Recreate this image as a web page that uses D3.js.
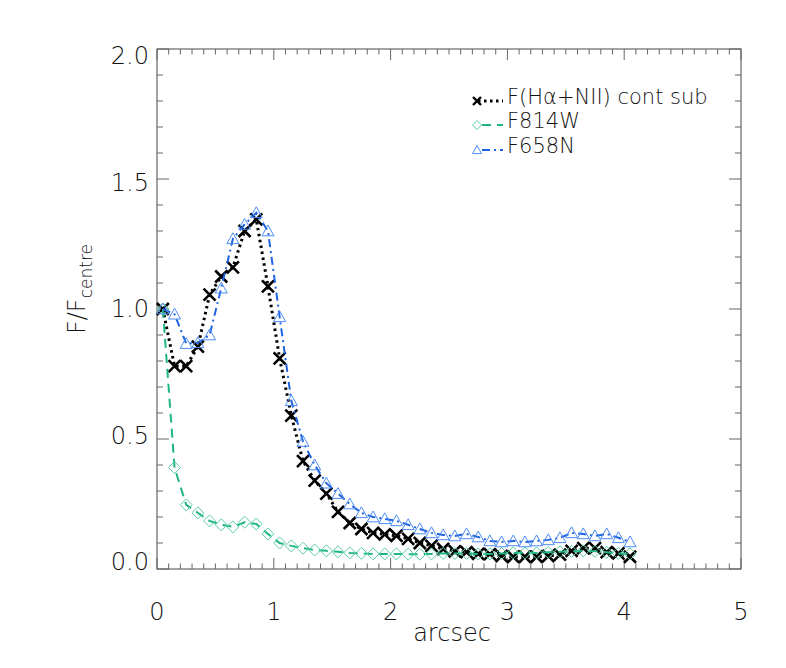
<!DOCTYPE html>
<html>
<head>
<meta charset="utf-8">
<script src="https://cdn.jsdelivr.net/npm/d3@7"></script>
<style>
  body { margin: 0; background: #fff; }
  text { font-family: "DejaVu Sans", "Liberation Sans", sans-serif; font-weight: 200; fill: #111; }
</style>
</head>
<body>
<svg id="chart" width="786" height="668"></svg>
<script>
// radial profile data
var arcsec = [0.05, 0.15, 0.25, 0.35, 0.45, 0.55, 0.65, 0.75, 0.85, 0.95,
              1.05, 1.15, 1.25, 1.35, 1.45, 1.55, 1.65, 1.75, 1.85, 1.95,
              2.05, 2.15, 2.25, 2.35, 2.45, 2.55, 2.65, 2.75, 2.85, 2.95,
              3.05, 3.15, 3.25, 3.35, 3.45, 3.55, 3.65, 3.75, 3.85, 3.95, 4.05];

var haContSub = [1.0, 0.78, 0.78, 0.855, 1.055, 1.125, 1.16, 1.30, 1.345, 1.087,
                 0.81, 0.59, 0.415, 0.34, 0.29, 0.22, 0.177, 0.154, 0.139, 0.133,
                 0.128, 0.116, 0.10, 0.089, 0.077, 0.068, 0.065, 0.058, 0.057, 0.05,
                 0.047, 0.047, 0.047, 0.05, 0.055, 0.07, 0.08, 0.08, 0.065, 0.06, 0.047];

var f814w = [1.0, 0.39, 0.247, 0.216, 0.185, 0.17, 0.162, 0.18, 0.173, 0.135,
             0.10, 0.089, 0.08, 0.073, 0.07, 0.066, 0.062, 0.06, 0.058, 0.058,
             0.058, 0.057, 0.057, 0.058, 0.06, 0.06, 0.06, 0.058, 0.058, 0.06,
             0.062, 0.062, 0.062, 0.064, 0.066, 0.068, 0.07, 0.068, 0.064, 0.06, 0.058];

var f658n = [1.0, 0.98, 0.867, 0.87, 0.9, 1.08, 1.27, 1.325, 1.37, 1.30,
             0.97, 0.647, 0.49, 0.40, 0.33, 0.29, 0.25, 0.216, 0.20, 0.193,
             0.185, 0.17, 0.154, 0.139, 0.131, 0.127, 0.135, 0.123, 0.108, 0.104,
             0.108, 0.104, 0.108, 0.112, 0.12, 0.139, 0.135, 0.127, 0.135, 0.12, 0.104];

var xTicks = [0, 1, 2, 3, 4, 5];
var yTicks = [0.0, 0.5, 1.0, 1.5, 2.0];

var seriesNames = ["F(H\u03b1+NII) cont sub", "F814W", "F658N"];

// ############################################
// chart frame
var margin = {top: 49, right: 45, bottom: 99, left: 157};
var width = 786 - margin.left - margin.right,
    height = 668 - margin.top - margin.bottom;

var svg = d3.select("#chart");
var g = svg.append("g").attr("transform", `translate(${margin.left},${margin.top})`);

var xScale = d3.scaleLinear().domain([0, 5]).range([0, width]);
var yScale = d3.scaleLinear().domain([0, 2]).range([height, 0]);

var axisCol = "#666";

g.append("rect")
  .attr("width", width).attr("height", height)
  .attr("fill", "none").attr("stroke", axisCol).attr("stroke-width", 1.2);

// ticks on all 4 sides, pointing inward
var xMinor = d3.range(0, 51).map(d => d / 10);
var yMinor = d3.range(0, 21).map(d => d / 10);
var isMajorX = v => Math.abs(v - Math.round(v)) < 1e-6;
var isMajorY = v => Math.abs(v * 2 - Math.round(v * 2)) < 1e-6;

g.selectAll("line.xtick_b").data(xMinor).join("line").attr("class", "xtick_b")
  .attr("x1", d => xScale(d)).attr("x2", d => xScale(d))
  .attr("y1", height).attr("y2", d => height - (isMajorX(d) ? 11 : 5.5))
  .attr("stroke", axisCol);
g.selectAll("line.xtick_t").data(xMinor).join("line").attr("class", "xtick_t")
  .attr("x1", d => xScale(d)).attr("x2", d => xScale(d))
  .attr("y1", 0).attr("y2", d => (isMajorX(d) ? 11 : 5.5))
  .attr("stroke", axisCol);
g.selectAll("line.ytick_l").data(yMinor).join("line").attr("class", "ytick_l")
  .attr("y1", d => yScale(d)).attr("y2", d => yScale(d))
  .attr("x1", 0).attr("x2", d => (isMajorY(d) ? 12 : 6))
  .attr("stroke", axisCol);
g.selectAll("line.ytick_r").data(yMinor).join("line").attr("class", "ytick_r")
  .attr("y1", d => yScale(d)).attr("y2", d => yScale(d))
  .attr("x1", width).attr("x2", d => width - (isMajorY(d) ? 12 : 6))
  .attr("stroke", axisCol);

// tick labels (IDL-ish placement: labels sit a little inside the frame ends)
g.selectAll("text.xlab").data(xTicks).join("text").attr("class", "xlab")
  .attr("x", d => xScale(d)).attr("y", height + 51)
  .attr("text-anchor", "middle").style("font-size", "24px")
  .text(d => d);
g.selectAll("text.ylab").data(yTicks).join("text").attr("class", "ylab")
  .attr("x", -8).attr("y", d => yScale(d) + 1 + 7 * d)
  .attr("text-anchor", "end").style("font-size", "24px")
  .text(d => d.toFixed(1));

// axis titles
g.append("text")
  .attr("x", width / 2 + 3).attr("y", height + 72)
  .attr("text-anchor", "middle").style("font-size", "24px")
  .text("arcsec");

var yt = g.append("text")
  .attr("transform", `translate(-72,${height / 2 - 20}) rotate(-90)`)
  .attr("text-anchor", "middle").style("font-size", "24px");
yt.append("tspan").text("F/F");
yt.append("tspan").attr("dy", 7).style("font-size", "17px").text("centre");

// ###################################################
//  DRAW LINES + SYMBOLS
var series = [
  {name: seriesNames[0], vals: haContSub, line: "#000", sym: "#000", dash: "2.5,3.5", w: 3, shape: "x"},
  {name: seriesNames[1], vals: f814w, line: "#20b585", sym: "#5ccf9f", dash: "9,6", w: 2, shape: "diamond"},
  {name: seriesNames[2], vals: f658n, line: "#1f63e0", sym: "#4d8cf5", dash: "8,4,2,4", w: 2, shape: "tri"}
];

var path = d3.line()
  .x((d, i) => xScale(arcsec[i]))
  .y(d => yScale(d));

function symbolPath(shape, s) {
  if (shape === "x") return `M${-s},${-s}L${s},${s}M${-s},${s}L${s},${-s}`;
  if (shape === "diamond") return `M0,${-s}L${s},0L0,${s}L${-s},0Z`;
  return `M0,${-s}L${s},${s * 0.8}L${-s},${s * 0.8}Z`;
}

series.forEach(function(sr) {
  g.append("path")
    .attr("d", path(sr.vals))
    .attr("fill", "none")
    .attr("stroke", sr.line)
    .attr("stroke-width", sr.w)
    .attr("stroke-dasharray", sr.dash);

  g.selectAll(null).data(sr.vals).join("path")
    .attr("transform", (d, i) => `translate(${xScale(arcsec[i])},${yScale(d)})`)
    .attr("d", symbolPath(sr.shape, 6))
    .attr("fill", "none")
    .attr("stroke", sr.sym)
    .attr("stroke-width", sr.shape === "x" ? 2.6 : 1);
});

// ######################################
// legend
var legend = svg.append("g").attr("transform", "translate(470,0)");
var legY = [101, 125, 150];
series.forEach(function(sr, i) {
  legend.append("path")
    .attr("transform", `translate(7,${legY[i]})`)
    .attr("d", symbolPath(sr.shape, sr.shape === "x" ? 4 : 4.5))
    .attr("fill", "none").attr("stroke", sr.sym)
    .attr("stroke-width", sr.shape === "x" ? 2.4 : 1);
  legend.append("line")
    .attr("x1", 8).attr("x2", 33)
    .attr("y1", legY[i]).attr("y2", legY[i])
    .attr("stroke", sr.line).attr("stroke-width", sr.w)
    .attr("stroke-dasharray", sr.dash)
    .attr("stroke-dashoffset", i === 0 ? 0 : -4);
  legend.append("text")
    .attr("x", 37).attr("y", legY[i] + 3)
    .style("font-size", "21px")
    .text(sr.name);
});
</script>
</body>
</html>
